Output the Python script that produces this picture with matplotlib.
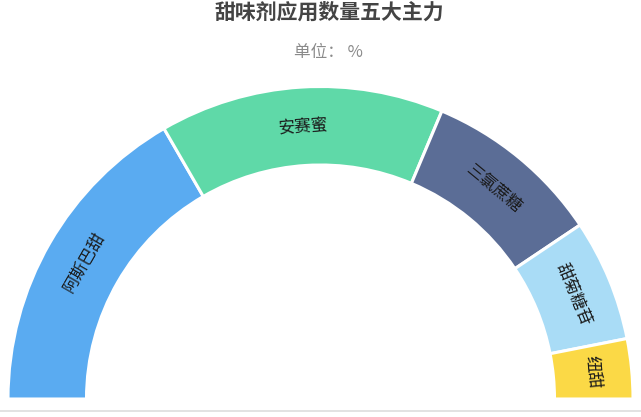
import matplotlib
matplotlib.use('Agg')
import matplotlib.pyplot as plt
import numpy as np

plt.rcParams['font.family'] = ['Noto Sans CJK SC', 'DejaVu Sans']

# share of each sweetener, %
names = ['阿斯巴甜', '安赛蜜', '三氯蔗糖', '甜菊糖苷', '纽甜']
values = [33.3, 29.4, 18.5, 12.6, 6.2]
colors = ['#5aabf1', '#5fd9a8', '#5b6d96', '#a9dcf6', '#fbd946']

W, H = 641, 417
fig = plt.figure(figsize=(W / 100, H / 100), dpi=100)
ax = fig.add_axes([0, 0, 1, 1])

cx, cy = 320.5, 18      # centre of the half ring (pixels from bottom-left)
r_out, r_in = 312.5, 234

# the second half of the pie is a hidden dummy slice
total = sum(values)
wedges, _ = ax.pie(values + [total], colors=colors + ['white'],
                   startangle=180, counterclock=False,
                   center=(cx, cy), radius=r_out,
                   wedgeprops=dict(width=r_out - r_in, edgecolor='white', linewidth=2.2))
wedges[-1].set_visible(False)

r_mid = (r_out + r_in) / 2
for w, name in zip(wedges[:-1], names):
    mid = (w.theta1 + w.theta2) / 2
    a = np.deg2rad(mid)
    ax.text(cx + r_mid * np.cos(a), cy + r_mid * np.sin(a), name,
            rotation=mid - 90, rotation_mode='anchor',
            ha='center', va='center', fontsize=12, color='#1a1a1a')

ax.set_xlim(0, W)
ax.set_ylim(0, H)
ax.set_aspect('equal')
ax.axis('off')

ax.axhline(H - 411, color='#dddddd', lw=1.2)

fig.text(329.5 / W, 1 - 12 / H, '甜味剂应用数量五大主力', ha='center', va='center',
         fontsize=15, fontweight='bold', color='#444444')
fig.text(328.5 / W, 1 - 52 / H, '单位： %', ha='center', va='center',
         fontsize=12, color='#8a8a8a')

fig.savefig('out.png', dpi=100)
